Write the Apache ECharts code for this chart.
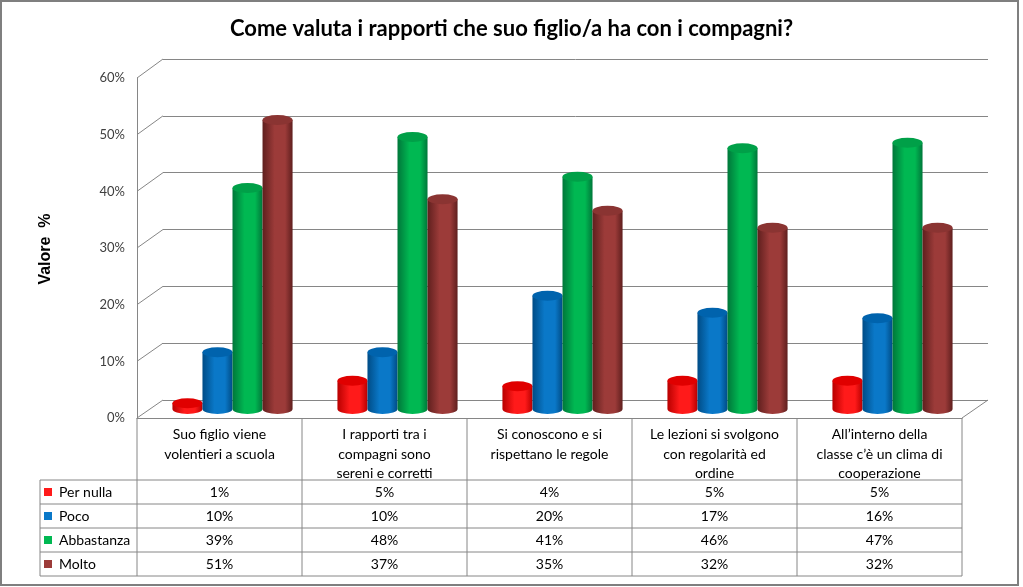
<!DOCTYPE html>
<html>
<head>
<meta charset="utf-8">
<title>Come valuta i rapporti</title>
<script src="https://cdn.jsdelivr.net/npm/echarts/dist/echarts.min.js"></script>
<style>
  html, body { margin: 0; padding: 0; background: #fff; }
  #chart { width: 1023px; height: 587px; }
</style>
</head>
<body>
<div id="chart"></div>
<script>
const categories = [
  'Suo figlio viene\nvolentieri a scuola',
  'I rapporti tra i\ncompagni sono\nsereni e corretti',
  'Si conoscono e si\nrispettano le regole',
  'Le lezioni si svolgono\ncon regolarità ed\nordine',
  'All’interno della\nclasse c’è un clima di\ncooperazione'
];
const levels = ['Per nulla', 'Poco', 'Abbastanza', 'Molto'];
const perNulla = [1, 5, 4, 5, 5];
const poco = [10, 10, 20, 17, 16];
const abbastanza = [39, 48, 41, 46, 47];
const molto = [51, 37, 35, 32, 32];
const yTicks = [0, 10, 20, 30, 40, 50, 60];

const seriesValues = [perNulla, poco, abbastanza, molto];
// colori: [centro, bordo scuro, tappo]
const colors = [
  ['#ff1a1a', '#b80000', '#e00000'],
  ['#0a78c8', '#004c86', '#0063ad'],
  ['#00b852', '#00773a', '#00a048'],
  ['#9c3b39', '#5f1f1e', '#8a3432']
];

const FONT = 'Lato, "Open Sans", sans-serif';
const GRID_COLOR = '#868686';

// piano frontale / parete di fondo / cilindri
const front = { left: 137, right: 61, top: 78, bottom: 169 };
const back = { left: 163, right: 35, top: 59, bottom: 187 };
const bars = { left: 150, right: 48, top: 69, bottom: 178 };

function cylinder(si) {
  return function (params, api) {
    const cat = api.value(0);
    const val = api.value(1);
    const top = api.coord([cat, val]);
    const base = api.coord([cat, 0]);
    const band = api.size([1, 0])[0];
    const w = band * 0.182;
    const r = w / 2;
    const ry = 5;
    const cx = top[0] + (si - 1.5) * w;
    const x0 = cx - r, x1 = cx + r;
    const c = colors[si];
    const body = 'M' + x0 + ' ' + top[1] +
      ' L' + x0 + ' ' + base[1] +
      ' A' + r + ' ' + ry + ' 0 0 0 ' + x1 + ' ' + base[1] +
      ' L' + x1 + ' ' + top[1] + ' Z';
    const cap = 'M' + x0 + ' ' + top[1] +
      ' A' + r + ' ' + ry + ' 0 0 1 ' + x1 + ' ' + top[1] +
      ' A' + r + ' ' + ry + ' 0 0 1 ' + x0 + ' ' + top[1] + ' Z';
    return {
      type: 'group',
      children: [
        {
          type: 'path',
          shape: { pathData: body },
          style: {
            fill: new echarts.graphic.LinearGradient(0, 0, 1, 0, [
              { offset: 0, color: c[1] },
              { offset: 0.4, color: c[0] },
              { offset: 0.75, color: c[0] },
              { offset: 1, color: c[1] }
            ])
          }
        },
        {
          type: 'path',
          shape: { pathData: cap },
          style: { fill: c[2] }
        }
      ]
    };
  };
}

const chart = echarts.init(document.getElementById('chart'));

const option = {
  backgroundColor: '#fff',
  animation: false,
  title: {
    text: 'Come valuta i rapporti che suo figlio/a ha con i compagni?',
    left: 'center',
    top: 13,
    textStyle: { fontFamily: FONT, fontSize: 22, fontWeight: 'bold', color: '#000' }
  },
  grid: [
    Object.assign({}, bars),
    Object.assign({}, back),
    Object.assign({}, front)
  ],
  xAxis: [
    { gridIndex: 0, type: 'category', data: categories, show: false },
    { gridIndex: 1, type: 'category', data: categories, show: false },
    {
      gridIndex: 2, type: 'category', data: categories,
      axisLine: { show: true, lineStyle: { color: GRID_COLOR } },
      axisTick: { show: false }, axisLabel: { show: false }
    }
  ],
  yAxis: [
    { gridIndex: 0, type: 'value', min: 0, max: 60, interval: 10, show: false },
    {
      gridIndex: 1, type: 'value', min: 0, max: 60, interval: 10,
      axisLine: { show: false }, axisTick: { show: false }, axisLabel: { show: false },
      splitLine: { show: true, lineStyle: { color: GRID_COLOR, width: 1 } }
    },
    {
      gridIndex: 2, type: 'value', min: 0, max: 60, interval: 10,
      axisLine: { show: true, lineStyle: { color: GRID_COLOR } },
      axisTick: { show: false },
      splitLine: { show: false },
      axisLabel: { formatter: '{value}%', color: '#404040', fontSize: 13, fontFamily: FONT, margin: 12 }
    }
  ],
  series: levels.map(function (name, si) {
    return {
      name: name,
      type: 'custom',
      xAxisIndex: 0,
      yAxisIndex: 0,
      renderItem: cylinder(si),
      data: seriesValues[si].map(function (v, i) { return [i, v]; }),
      z: 10
    };
  })
};

chart.setOption(option);

// pareti laterali, pavimento e tabella dati
const W = 1023, H = 587;
const frontX0 = front.left, frontX1 = W - front.right;
const backX0 = back.left, backX1 = W - back.right;
const line = (x1, y1, x2, y2) => ({
  type: 'line', silent: true,
  shape: { x1: x1, y1: y1, x2: x2, y2: y2 },
  style: { stroke: GRID_COLOR, lineWidth: 1 }
});
const g = [];

yTicks.forEach(function (t) {
  const yf = chart.convertToPixel({ yAxisIndex: 2 }, t);
  const yb = chart.convertToPixel({ yAxisIndex: 1 }, t);
  g.push(line(frontX0, yf, backX0, yb));
});
const floorFront = chart.convertToPixel({ yAxisIndex: 2 }, 0);
const floorBack = chart.convertToPixel({ yAxisIndex: 1 }, 0);
g.push(line(frontX1, floorFront, backX1, floorBack));

// tabella
const colW = (frontX1 - frontX0) / categories.length;
const rowH = 24;
const headerBottom = 480;
const legendX = 40;
const tableBottom = headerBottom + rowH * levels.length;
const TABLE_FONT = '14px ' + FONT;

for (let i = 0; i <= categories.length; i++) {
  const x = frontX0 + i * colW;
  g.push(line(x, floorFront, x, tableBottom));
}
g.push(line(legendX, headerBottom, legendX, tableBottom));
for (let r = 0; r <= levels.length; r++) {
  const y = headerBottom + r * rowH;
  g.push(line(legendX, y, frontX1, y));
}

categories.forEach(function (c, i) {
  g.push({
    type: 'text', silent: true,
    x: frontX0 + (i + 0.5) * colW, y: floorFront + 7,
    style: {
      text: c, fill: '#000', font: TABLE_FONT,
      align: 'center', verticalAlign: 'top', lineHeight: 19.5
    }
  });
});

levels.forEach(function (name, r) {
  const yc = headerBottom + (r + 0.5) * rowH;
  g.push({
    type: 'rect', silent: true,
    shape: { x: legendX + 4, y: yc - 4, width: 8, height: 8 },
    style: { fill: colors[r][0] }
  });
  g.push({
    type: 'text', silent: true,
    x: legendX + 19, y: yc,
    style: { text: name, fill: '#000', font: TABLE_FONT, align: 'left', verticalAlign: 'middle' }
  });
  seriesValues[r].forEach(function (v, i) {
    g.push({
      type: 'text', silent: true,
      x: frontX0 + (i + 0.5) * colW, y: yc,
      style: { text: v + '%', fill: '#000', font: TABLE_FONT, align: 'center', verticalAlign: 'middle' }
    });
  });
});

// titolo asse
g.push({
  type: 'text', silent: true,
  x: 46, y: 249, rotation: Math.PI / 2,
  style: { text: 'Valore  %', fill: '#000', font: 'bold 16px "Liberation Sans", Arial, sans-serif', align: 'center', verticalAlign: 'middle' }
});

// cornice
g.push({
  type: 'rect', silent: true,
  shape: { x: 1, y: 1, width: 1017, height: 584 },
  style: { fill: null, stroke: '#7f7f7f', lineWidth: 2 }
});

chart.setOption({ graphic: g });
</script>
</body>
</html>
